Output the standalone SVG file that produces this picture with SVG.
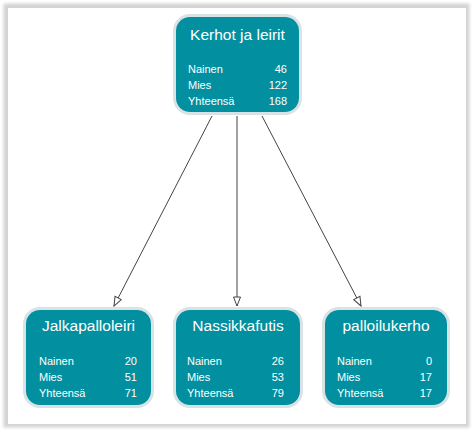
<svg xmlns="http://www.w3.org/2000/svg" width="474" height="432" viewBox="0 0 474 432">
<defs>
<filter id="sh" x="-5%" y="-5%" width="110%" height="110%"><feGaussianBlur stdDeviation="1.5"/></filter>
<marker id="arr" viewBox="0 0 11 9" refX="10" refY="4.5" markerWidth="11" markerHeight="9" markerUnits="userSpaceOnUse" orient="auto">
<path d="M1,1 L10,4.5 L1,8 Z" fill="#fff" stroke="#444" stroke-width="1"/>
</marker>
</defs>
<style>
.halo{fill:none;stroke:#d9e2e5;stroke-width:3}
.box{fill:#028f9f}
.t{font-family:"Liberation Sans",Arial,sans-serif;fill:#fff}
.title{font-size:15.5px;text-anchor:middle}
.row{font-size:11px}
.num{font-size:11px;text-anchor:end}
.edge{stroke:#444;stroke-width:1;fill:none;marker-end:url(#arr)}
</style>
<rect x="0" y="0" width="474" height="432" fill="#fff"/>
<rect x="3.5" y="3.5" width="466" height="424" fill="#d4d4d4" filter="url(#sh)"/>
<rect x="8" y="8" width="458" height="416" fill="#fff"/>
<g id="connectors">
<line class="edge" x1="212" y1="116" x2="114" y2="306"/>
<line class="edge" x1="237" y1="116" x2="237" y2="306"/>
<line class="edge" x1="262" y1="116" x2="361" y2="306"/>
</g>
<g id="n-kerhot">
<rect class="halo" x="174.5" y="15.5" width="126" height="98" rx="15.5"/>
<rect class="box" x="176" y="17" width="123" height="95" rx="14"/>
<text class="t title" x="237.5" y="40">Kerhot ja leirit</text>
<text class="t row" x="188" y="73">Nainen</text><text class="t num" x="287" y="73">46</text>
<text class="t row" x="188" y="89">Mies</text><text class="t num" x="287" y="89">122</text>
<text class="t row" x="188" y="105">Yhteensä</text><text class="t num" x="287" y="105">168</text>
</g>
<g id="n-jalka">
<rect class="halo" x="24.5" y="308.5" width="128" height="98" rx="15.5"/>
<rect class="box" x="26" y="310" width="125" height="95" rx="14"/>
<text class="t title" x="88.5" y="331">Jalkapalloleiri</text>
<text class="t row" x="39" y="365">Nainen</text><text class="t num" x="137" y="365">20</text>
<text class="t row" x="39" y="381">Mies</text><text class="t num" x="137" y="381">51</text>
<text class="t row" x="39" y="397">Yhteensä</text><text class="t num" x="137" y="397">71</text>
</g>
<g id="n-nassikka">
<rect class="halo" x="174.5" y="308.5" width="127" height="98" rx="15.5"/>
<rect class="box" x="176" y="310" width="124" height="95" rx="14"/>
<text class="t title" x="238" y="331">Nassikkafutis</text>
<text class="t row" x="187" y="365">Nainen</text><text class="t num" x="284" y="365">26</text>
<text class="t row" x="187" y="381">Mies</text><text class="t num" x="284" y="381">53</text>
<text class="t row" x="187" y="397">Yhteensä</text><text class="t num" x="284" y="397">79</text>
</g>
<g id="n-palloilu">
<rect class="halo" x="323.5" y="308.5" width="125" height="98" rx="15.5"/>
<rect class="box" x="325" y="310" width="122" height="95" rx="14"/>
<text class="t title" x="386" y="331">palloilukerho</text>
<text class="t row" x="337" y="365">Nainen</text><text class="t num" x="432" y="365">0</text>
<text class="t row" x="337" y="381">Mies</text><text class="t num" x="432" y="381">17</text>
<text class="t row" x="337" y="397">Yhteensä</text><text class="t num" x="432" y="397">17</text>
</g>
</svg>
